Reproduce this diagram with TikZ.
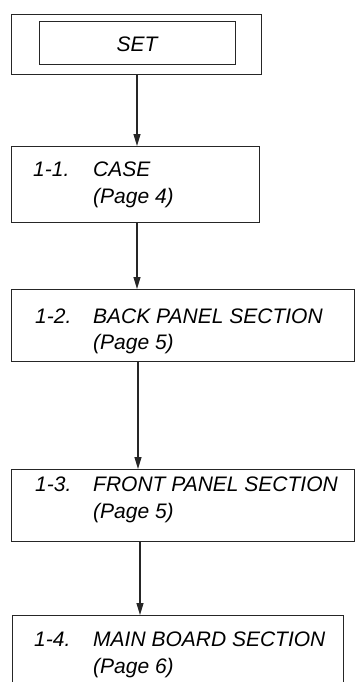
\documentclass[tikz,border=0pt]{standalone}
\usepackage{fontspec}
\setmainfont{Liberation Sans}
\usetikzlibrary{arrows.meta}
\tikzset{
  boxline/.style={draw=black!85, line width=1.1pt},
  flowbox/.style={boxline, rectangle, inner sep=0pt, anchor=north west},
  txt/.style={inner sep=0pt, anchor=base west, font=\fontsize{21}{24}\selectfont\itshape},
  arr/.style={draw=black!85, line width=1.1pt, -{Triangle[length=12pt,width=7pt]}}
}
\begin{document}
\begin{tikzpicture}[x=1pt,y=-1pt]
\clip (0,0) rectangle (356,682);
\useasboundingbox (0,0) rectangle (356,682);
% boxes
\node[flowbox, minimum width=250pt, minimum height=60pt] (outer) at (11,14) {};
\node[flowbox, minimum width=196pt, minimum height=43pt] (inner) at (39,21) {};
\node[inner sep=0pt, font=\fontsize{21}{24}\selectfont\itshape] (set) at (137,44.5) {SET};
\node[flowbox, minimum width=248pt, minimum height=76pt] (b1) at (11,146) {};
\node[flowbox, minimum width=343pt, minimum height=72pt] (b2) at (11,289) {};
\node[flowbox, minimum width=343pt, minimum height=72pt] (b3) at (11,469) {};
\node[flowbox, minimum width=331pt, minimum height=90pt] (b4) at (12,615) {};
% texts
\node[txt] (n1) at (33,176) {1-1.};
\node[txt] (l1) at (93,176) {CASE};
\node[txt] (p1) at (93,203) {(Page 4)};
\node[txt] (n2) at (35,323) {1-2.};
\node[txt] (l2) at (93,323) {BACK PANEL SECTION};
\node[txt] (p2) at (93,349) {(Page 5)};
\node[txt] (n3) at (35,491) {1-3.};
\node[txt] (l3) at (93,491) {FRONT PANEL SECTION};
\node[txt] (p3) at (93,518) {(Page 5)};
\node[txt] (n4) at (34,646) {1-4.};
\node[txt] (l4) at (93,646) {MAIN BOARD SECTION};
\node[txt] (p4) at (93,673) {(Page 6)};
% connectors
\coordinate (ax) at (137,0);
\coordinate (bx) at (138,0);
\coordinate (cx) at (140,0);
\draw[arr] (outer.south -| ax) -- (b1.north -| ax);
\draw[arr] (b1.south -| ax) -- (b2.north -| ax);
\draw[arr] (b2.south -| bx) -- (b3.north -| bx);
\draw[arr] (b3.south -| cx) -- (b4.north -| cx);
\end{tikzpicture}
\end{document}
